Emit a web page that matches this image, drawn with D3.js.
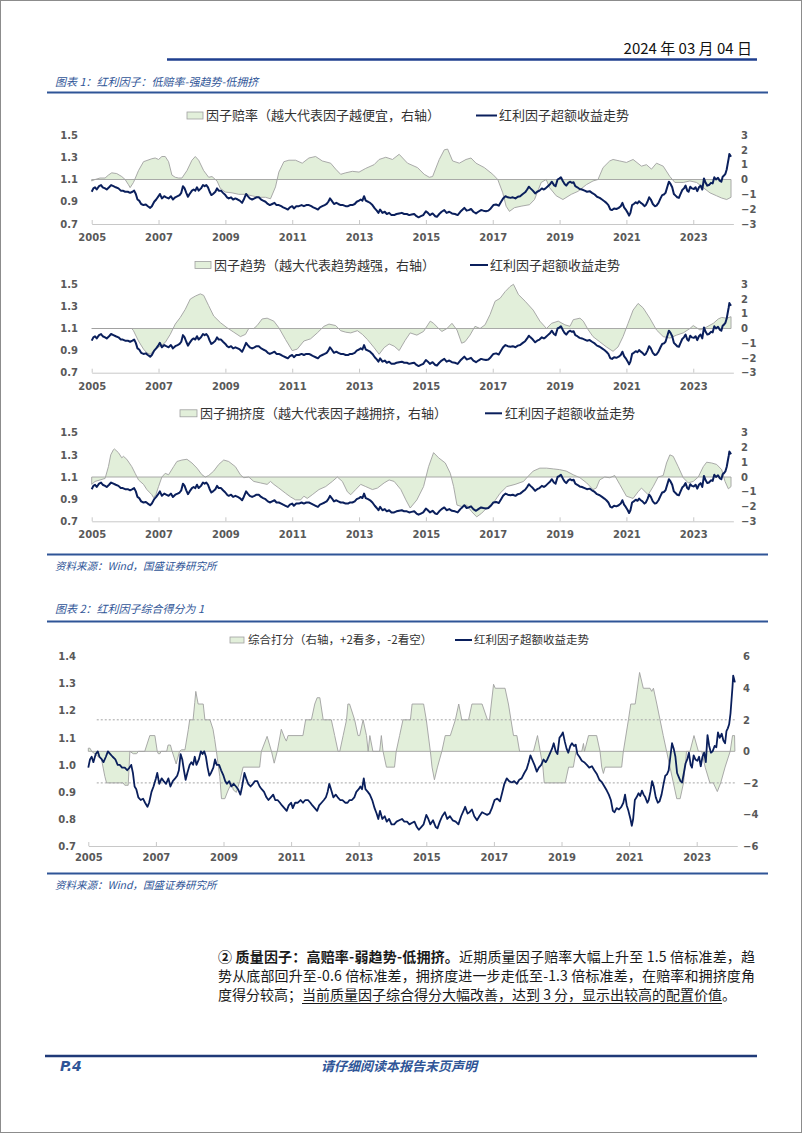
<!DOCTYPE html>
<html><head><meta charset="utf-8">
<script src="https://cdn.jsdelivr.net/npm/d3@7"></script>
<style>body{margin:0;background:#fff}svg{display:block}</style>
</head><body><svg id="c" width="802" height="1133"></svg>
<script>
// ---------------- DATA ----------------
const yearTicks = [2005,2007,2009,2011,2013,2015,2017,2019,2021,2023];
const panelLeftTicks = [0.7,0.9,1.1,1.3,1.5];
const panelRightTicks = [-3,-2,-1,0,1,2,3];
const scoreLeftTicks = [0.7,0.8,0.9,1.0,1.1,1.2,1.3,1.4];
const scoreRightTicks = [-6,-4,-2,0,2,4,6];

// 红利因子超额收益走势 (left axis)
const excessPts = [
[2005.00,0.99],[2005.05,1.02],[2005.10,1.03],[2005.15,1.01],[2005.22,1.04],[2005.28,1.05],[2005.33,1.03],[2005.40,1.02],[2005.45,1.01],[2005.52,1.03],
[2005.58,1.05],[2005.65,1.04],[2005.72,1.03],[2005.80,1.02],[2005.87,1.00],[2005.93,1.00],[2006.00,0.99],[2006.08,0.99],[2006.15,0.98],[2006.22,0.99],
[2006.27,1.00],[2006.32,0.97],[2006.37,0.92],[2006.42,0.91],[2006.48,0.88],[2006.55,0.87],[2006.62,0.875],[2006.68,0.86],[2006.75,0.845],[2006.80,0.86],
[2006.87,0.90],[2006.93,0.92],[2007.00,0.95],[2007.04,0.97],[2007.10,0.93],[2007.17,0.95],[2007.23,0.94],[2007.30,0.93],[2007.37,0.95],[2007.43,0.92],
[2007.50,0.94],[2007.57,0.95],[2007.63,0.96],[2007.68,0.98],[2007.73,1.04],[2007.78,1.02],[2007.83,0.98],[2007.88,0.945],[2007.93,0.97],[2008.00,1.00],
[2008.05,1.01],[2008.10,1.00],[2008.15,1.03],[2008.20,1.00],[2008.27,1.02],[2008.33,1.05],[2008.38,1.04],[2008.43,1.05],[2008.48,1.03],[2008.53,0.99],
[2008.58,0.96],[2008.63,0.97],[2008.70,0.99],[2008.75,1.02],[2008.80,1.00],[2008.87,1.00],[2008.93,0.98],[2009.00,0.96],[2009.05,0.94],[2009.10,0.93],
[2009.17,0.94],[2009.23,0.92],[2009.30,0.93],[2009.37,0.92],[2009.43,0.91],[2009.50,0.89],[2009.55,0.92],[2009.62,0.97],[2009.67,0.95],[2009.73,0.93],
[2009.80,0.92],[2009.87,0.93],[2009.93,0.94],[2010.00,0.94],[2010.07,0.92],[2010.13,0.91],[2010.20,0.90],[2010.27,0.88],[2010.33,0.87],[2010.40,0.88],
[2010.47,0.89],[2010.53,0.87],[2010.60,0.87],[2010.67,0.86],[2010.73,0.85],[2010.80,0.84],[2010.87,0.83],[2010.93,0.85],[2011.00,0.86],[2011.05,0.84],
[2011.12,0.86],[2011.20,0.86],[2011.28,0.87],[2011.35,0.86],[2011.42,0.87],[2011.50,0.87],[2011.57,0.86],[2011.63,0.85],[2011.70,0.84],[2011.77,0.83],
[2011.83,0.85],[2011.90,0.86],[2011.97,0.87],[2012.03,0.88],[2012.08,0.90],[2012.13,0.93],[2012.18,0.91],[2012.25,0.88],[2012.32,0.89],[2012.38,0.88],
[2012.45,0.87],[2012.52,0.87],[2012.60,0.86],[2012.67,0.86],[2012.73,0.87],[2012.80,0.87],[2012.87,0.88],[2012.93,0.90],[2013.00,0.91],[2013.05,0.92],
[2013.10,0.91],[2013.15,0.95],[2013.20,0.91],[2013.27,0.90],[2013.33,0.89],[2013.40,0.87],[2013.47,0.84],[2013.53,0.82],[2013.58,0.80],[2013.63,0.83],
[2013.70,0.80],[2013.77,0.81],[2013.83,0.79],[2013.90,0.80],[2013.97,0.78],[2014.05,0.78],[2014.12,0.79],[2014.20,0.795],[2014.28,0.80],[2014.35,0.79],
[2014.43,0.79],[2014.50,0.78],[2014.57,0.785],[2014.65,0.79],[2014.72,0.77],[2014.78,0.76],[2014.85,0.77],[2014.92,0.78],[2015.00,0.815],[2015.06,0.80],
[2015.12,0.78],[2015.20,0.795],[2015.28,0.77],[2015.33,0.765],[2015.40,0.79],[2015.47,0.81],[2015.55,0.825],[2015.62,0.80],[2015.70,0.81],[2015.78,0.795],
[2015.87,0.79],[2015.95,0.78],[2016.03,0.81],[2016.10,0.83],[2016.15,0.845],[2016.22,0.82],[2016.28,0.825],[2016.35,0.835],[2016.42,0.81],[2016.50,0.795],
[2016.57,0.81],[2016.65,0.825],[2016.72,0.82],[2016.80,0.815],[2016.87,0.82],[2016.94,0.84],[2017.02,0.87],[2017.10,0.875],[2017.18,0.865],[2017.25,0.90],
[2017.31,0.93],[2017.38,0.95],[2017.45,0.94],[2017.53,0.935],[2017.60,0.94],[2017.68,0.93],[2017.75,0.945],[2017.82,0.95],[2017.90,0.97],[2017.97,0.985],
[2018.03,1.01],[2018.08,1.035],[2018.13,1.02],[2018.20,1.00],[2018.27,0.975],[2018.33,0.99],[2018.40,1.00],[2018.47,1.02],[2018.53,1.01],[2018.58,1.02],
[2018.65,1.04],[2018.72,1.06],[2018.77,1.08],[2018.83,1.05],[2018.88,1.04],[2018.94,1.10],[2019.00,1.11],[2019.04,1.12],[2019.10,1.085],[2019.15,1.06],
[2019.20,1.045],[2019.26,1.07],[2019.31,1.08],[2019.37,1.07],[2019.42,1.075],[2019.47,1.04],[2019.53,1.03],[2019.60,1.015],[2019.67,1.01],[2019.75,1.00],
[2019.82,0.99],[2019.90,0.995],[2019.97,0.98],[2020.05,0.965],[2020.12,0.945],[2020.20,0.935],[2020.27,0.92],[2020.34,0.905],[2020.40,0.89],[2020.46,0.87],
[2020.52,0.83],[2020.57,0.825],[2020.63,0.84],[2020.70,0.835],[2020.77,0.845],[2020.83,0.86],[2020.88,0.89],[2020.93,0.85],[2020.98,0.83],[2021.04,0.80],
[2021.08,0.775],[2021.12,0.80],[2021.17,0.87],[2021.22,0.88],[2021.28,0.895],[2021.33,0.885],[2021.38,0.905],[2021.43,0.89],[2021.48,0.88],[2021.54,0.86],
[2021.58,0.87],[2021.63,0.90],[2021.68,0.94],[2021.73,0.92],[2021.79,0.88],[2021.85,0.86],[2021.90,0.865],[2021.96,0.89],[2022.02,0.93],[2022.07,0.96],
[2022.12,0.965],[2022.17,0.98],[2022.22,1.03],[2022.27,1.08],[2022.32,1.06],[2022.37,1.03],[2022.42,0.97],[2022.47,0.955],[2022.52,0.94],[2022.57,0.935],
[2022.62,0.97],[2022.67,1.005],[2022.72,1.02],[2022.77,1.045],[2022.82,1.00],[2022.86,0.99],[2022.91,1.035],[2022.96,1.02],[2023.02,1.015],[2023.07,1.03],
[2023.12,0.995],[2023.17,1.03],[2023.22,1.045],[2023.27,1.01],[2023.32,1.11],[2023.37,1.07],[2023.42,1.045],[2023.47,1.05],[2023.53,1.07],[2023.58,1.065],
[2023.63,1.12],[2023.68,1.10],[2023.74,1.115],[2023.79,1.09],[2023.84,1.08],[2023.88,1.125],[2023.92,1.135],[2023.96,1.15],[2024.00,1.19],[2024.03,1.24],
[2024.06,1.29],[2024.08,1.33],[2024.10,1.32],[2024.13,1.305]
];

// 因子赔率 (right axis)
const valuationPts = [
[2005.00,-0.1],[2005.10,0.0],[2005.25,0.1],[2005.40,0.1],[2005.50,0.3],[2005.60,0.45],[2005.75,0.4],[2005.90,0.2],[2006.00,0.0],[2006.10,-0.35],
[2006.15,-0.55],[2006.25,-0.2],[2006.40,0.6],[2006.55,1.2],[2006.80,1.4],[2006.90,1.45],[2007.00,1.35],[2007.10,1.55],[2007.20,1.55],[2007.30,1.2],
[2007.40,0.3],[2007.50,0.15],[2007.60,0.1],[2007.70,0.1],[2007.85,0.6],[2008.00,1.3],[2008.10,1.55],[2008.20,1.3],[2008.35,0.6],[2008.50,0.15],
[2008.60,0.2],[2008.75,-0.1],[2008.85,-0.6],[2009.00,-0.85],[2009.20,-0.9],[2009.40,-1.0],[2009.60,-1.0],[2009.80,-1.1],[2010.00,-1.2],[2010.20,-1.2],
[2010.35,-1.3],[2010.50,-0.5],[2010.60,0.5],[2010.75,1.2],[2010.90,1.3],[2011.10,1.3],[2011.30,1.1],[2011.50,1.45],[2011.70,1.55],[2011.90,1.25],
[2012.15,1.1],[2012.30,0.7],[2012.45,0.35],[2012.60,0.45],[2012.80,0.55],[2013.00,0.5],[2013.20,0.75],[2013.45,1.0],[2013.60,1.35],[2013.80,1.5],
[2014.00,1.35],[2014.20,1.7],[2014.45,1.1],[2014.75,0.8],[2014.95,0.35],[2015.10,0.15],[2015.20,0.2],[2015.40,1.35],[2015.55,2.0],[2015.65,2.05],
[2015.80,1.25],[2016.00,1.1],[2016.20,1.35],[2016.35,1.45],[2016.50,1.1],[2016.75,0.8],[2017.00,0.35],[2017.15,0.0],[2017.30,-0.9],[2017.40,-1.8],
[2017.50,-2.15],[2017.65,-1.9],[2017.85,-1.8],[2018.10,-1.7],[2018.25,-1.35],[2018.45,-0.2],[2018.60,0.0],[2018.70,-0.55],[2018.90,-1.1],[2019.10,-1.35],
[2019.35,-1.0],[2019.55,-0.8],[2019.80,-0.35],[2020.00,-0.1],[2020.15,0.0],[2020.30,0.8],[2020.50,1.25],[2020.60,1.35],[2020.80,1.25],[2021.00,1.15],
[2021.20,1.35],[2021.45,0.9],[2021.60,1.0],[2021.75,0.7],[2021.90,1.1],[2022.10,0.9],[2022.30,0.2],[2022.45,-0.2],[2022.70,-0.2],[2022.90,-0.1],
[2023.10,-0.2],[2023.30,-0.55],[2023.50,-0.9],[2023.70,-1.1],[2023.85,-1.25],[2024.00,-1.35],[2024.13,-1.2]
];

// 因子趋势 (right axis)
const trendPts = [
[2005.00,0],[2006.20,0],[2006.25,-0.15],[2006.40,-0.85],[2006.55,-1.4],[2006.65,-1.65],[2006.75,-1.75],[2006.90,-1.4],[2007.05,-1.2],[2007.20,-0.95],
[2007.35,-0.4],[2007.50,0.3],[2007.65,0.75],[2007.80,1.3],[2007.95,2.0],[2008.10,2.2],[2008.25,2.35],[2008.35,2.25],[2008.50,1.55],[2008.65,0.85],
[2008.85,0.4],[2009.05,0.05],[2009.25,-0.25],[2009.45,-0.55],[2009.60,-0.4],[2009.70,0.0],[2009.85,0.0],[2009.95,0.2],[2010.10,0.65],[2010.25,0.7],
[2010.45,0.5],[2010.60,0.05],[2010.80,-0.75],[2011.00,-1.5],[2011.15,-1.4],[2011.35,-0.85],[2011.55,-0.7],[2011.75,-0.3],[2011.95,0.15],[2012.10,0.3],
[2012.30,0.2],[2012.45,-0.15],[2012.60,-0.25],[2012.75,-0.3],[2012.95,-0.15],[2013.10,-0.4],[2013.25,-0.75],[2013.45,-1.3],[2013.60,-1.75],[2013.75,-1.3],
[2013.90,-1.05],[2014.05,-1.2],[2014.20,-1.5],[2014.38,-0.8],[2014.53,-0.3],[2014.73,-0.45],[2014.93,-0.2],[2015.13,0.5],[2015.23,0.35],[2015.38,0.0],
[2015.48,-0.2],[2015.63,0.0],[2015.78,0.35],[2015.93,-0.1],[2016.07,-1.0],[2016.17,-0.9],[2016.32,-0.45],[2016.47,0.15],[2016.62,0.0],[2016.77,0.25],
[2016.92,0.95],[2017.07,1.85],[2017.22,2.05],[2017.37,2.5],[2017.52,2.85],[2017.62,3.0],[2017.77,2.3],[2017.97,1.85],[2018.21,1.25],[2018.41,0.5],
[2018.61,0.0],[2018.76,0.35],[2018.96,0.5],[2019.16,0.25],[2019.31,0.15],[2019.41,0.6],[2019.61,0.7],[2019.71,0.5],[2019.86,-0.1],[2020.00,-0.55],
[2020.20,-0.9],[2020.40,-1.25],[2020.60,-1.55],[2020.75,-1.25],[2020.90,-0.55],[2021.05,0.35],[2021.20,1.25],[2021.35,1.7],[2021.50,1.4],[2021.70,0.7],
[2021.90,-0.1],[2022.10,-0.55],[2022.30,-0.65],[2022.50,-0.45],[2022.70,-0.3],[2022.90,0.0],[2023.00,0.2],[2023.20,-0.1],[2023.40,0.1],[2023.60,0.35],
[2023.75,0.65],[2023.85,0.75],[2024.00,0.7],[2024.13,0.8]
];

// 因子拥挤度 (right axis)
const crowdingPts = [
[2005.00,-0.5],[2005.10,-0.3],[2005.25,-0.2],[2005.40,-0.1],[2005.50,0.7],[2005.57,1.5],[2005.65,1.85],[2005.68,1.9],[2005.80,1.65],[2005.90,1.3],
[2005.95,1.4],[2006.05,1.2],[2006.20,0.7],[2006.30,0.25],[2006.40,-0.2],[2006.55,-0.5],[2006.65,-0.85],[2006.80,-1.2],[2006.85,-1.4],[2006.92,-1.2],
[2007.00,-0.65],[2007.10,0.0],[2007.20,0.25],[2007.30,0.15],[2007.45,0.7],[2007.55,1.05],[2007.70,1.15],[2007.85,1.2],[2008.00,0.95],[2008.15,0.6],
[2008.30,0.15],[2008.40,0.0],[2008.50,0.1],[2008.65,0.4],[2008.80,0.85],[2008.95,1.15],[2009.10,1.05],[2009.30,0.7],[2009.45,0.15],[2009.55,-0.05],
[2009.70,0.0],[2009.85,-0.3],[2010.05,-0.4],[2010.25,-0.5],[2010.35,-0.3],[2010.45,-0.5],[2010.60,-0.75],[2010.80,-1.1],[2010.95,-1.35],[2011.10,-1.55],
[2011.25,-1.55],[2011.35,-1.3],[2011.45,-1.45],[2011.60,-1.2],[2011.80,-0.85],[2012.00,-0.65],[2012.20,-0.3],[2012.35,0.0],[2012.50,-0.3],[2012.65,-1.0],
[2012.75,-1.2],[2012.90,-0.85],[2013.05,-0.5],[2013.20,-0.65],[2013.40,-0.85],[2013.55,-0.75],[2013.75,-0.4],[2013.90,-0.2],[2014.05,-0.3],[2014.25,-0.85],
[2014.40,-1.55],[2014.53,-2.1],[2014.73,-1.55],[2014.93,-0.65],[2015.08,0.7],[2015.23,1.65],[2015.38,1.3],[2015.58,0.95],[2015.73,0.25],[2015.83,-0.65],
[2015.93,-1.9],[2016.07,-2.0],[2016.22,-1.9],[2016.37,-2.35],[2016.52,-2.7],[2016.67,-2.45],[2016.82,-2.1],[2017.02,-1.75],[2017.22,-1.1],[2017.42,-0.65],
[2017.67,-0.5],[2017.92,-0.3],[2018.06,0.05],[2018.21,0.4],[2018.41,0.6],[2018.61,0.6],[2018.81,0.55],[2019.00,0.5],[2019.20,0.4],[2019.41,0.15],
[2019.61,-0.05],[2019.81,-0.4],[2020.00,-0.85],[2020.10,-0.75],[2020.20,-0.2],[2020.35,0.0],[2020.50,-0.05],[2020.65,0.1],[2020.80,-0.5],[2021.00,-1.3],
[2021.20,-1.45],[2021.35,-1.0],[2021.45,-0.75],[2021.65,-1.2],[2021.80,-0.65],[2021.95,0.0],[2022.10,0.1],[2022.20,0.95],[2022.30,1.5],[2022.40,1.4],
[2022.55,0.7],[2022.70,-0.05],[2022.85,-0.4],[2023.00,-0.3],[2023.15,0.0],[2023.30,0.7],[2023.40,1.0],[2023.55,0.95],[2023.70,0.85],[2023.85,0.5],
[2023.95,-0.3],[2024.05,-0.8],[2024.13,-0.65]
];

// 综合打分 (right axis, chart 2)
const scorePts = [
[2005.00,0.2],[2005.05,0.2],[2005.10,0],[2005.39,-0.5],[2005.49,-1.6],[2005.54,-2.0],[2006.03,-2.0],[2006.08,-2.15],[2006.18,-2.15],[2006.23,0],
[2006.33,-0.15],[2006.43,-0.15],[2006.48,0],[2006.67,0],[2006.82,1.0],[2006.97,1.0],[2007.04,0],[2007.07,-0.15],[2007.12,-0.15],[2007.15,0],
[2007.32,0],[2007.36,0.4],[2007.43,0.4],[2007.48,0],[2007.60,-0.8],[2007.70,0],[2007.76,0.1],[2007.86,0.1],[2007.96,1.4],[2008.00,2.0],
[2008.10,2.0],[2008.15,3.1],[2008.18,3.8],[2008.25,3.0],[2008.40,3.0],[2008.45,2.0],[2008.60,2.0],[2008.69,1.4],[2008.74,0.75],[2008.79,0],
[2008.89,-1.6],[2008.94,-3.0],[2009.04,-3.0],[2009.14,-2.45],[2009.24,-2.0],[2009.29,-2.45],[2009.38,-2.6],[2009.48,-1.9],[2009.58,-1.0],[2010.07,-1.0],
[2010.12,0],[2010.29,0.95],[2010.42,0],[2010.50,-0.75],[2010.59,0],[2010.71,1.4],[2010.81,0.85],[2010.86,0.65],[2010.91,1.0],[2011.35,1.0],
[2011.43,2.0],[2011.60,2.0],[2011.70,3.0],[2011.77,3.4],[2011.85,3.4],[2011.95,2.0],[2012.19,2.0],[2012.29,1.0],[2012.39,0],[2012.44,0],
[2012.54,1.0],[2012.64,2.0],[2012.68,3.0],[2012.73,3.0],[2012.88,2.0],[2012.98,1.0],[2013.03,1.0],[2013.13,2.0],[2013.23,1.0],[2013.28,0],
[2013.33,1.0],[2013.42,0],[2013.62,0],[2013.67,1.0],[2013.72,0],[2013.82,-1.0],[2014.06,-1.0],[2014.11,0],[2014.21,1.0],[2014.31,2.0],
[2014.53,2.0],[2014.58,3.0],[2014.92,3.0],[2015.00,2.0],[2015.12,0],[2015.17,-1.0],[2015.24,-1.8],[2015.33,-1.0],[2015.46,0],[2015.56,1.0],
[2015.71,1.0],[2015.86,2.0],[2015.96,3.0],[2016.05,2.0],[2016.25,2.0],[2016.35,3.0],[2016.65,3.0],[2016.81,2.0],[2016.87,2.0],[2016.99,4.25],
[2017.04,4.0],[2017.33,4.0],[2017.43,3.0],[2017.58,1.0],[2017.68,1.0],[2017.76,0],[2018.17,0],[2018.29,1.0],[2018.37,0],[2018.45,-1.0],
[2018.49,-2.0],[2019.11,-2.0],[2019.21,-1.0],[2019.35,-1.0],[2019.43,0],[2019.60,0],[2019.65,0.5],[2019.68,0],[2019.80,1.0],[2020.04,1.0],
[2020.14,0],[2020.19,-1.0],[2020.24,-1.4],[2020.29,-1.0],[2020.78,-1.0],[2020.83,0],[2020.98,2.0],[2021.05,3.0],[2021.18,3.0],[2021.31,5.0],
[2021.42,4.0],[2021.62,4.0],[2021.67,3.8],[2021.72,4.0],[2021.82,3.0],[2022.01,1.0],[2022.11,0],[2022.21,-1.0],[2022.31,-2.0],[2022.41,-3.0],
[2022.51,-3.0],[2022.61,-2.0],[2022.70,0],[2022.80,0],[2022.92,1.0],[2023.05,0],[2023.15,0],[2023.25,-1.0],[2023.39,-2.0],[2023.49,-2.0],
[2023.61,-2.55],[2023.71,-2.0],[2023.84,-1.0],[2023.99,0],[2024.06,1.0],[2024.12,1.0],[2024.13,0]
];
const scoreGuides = [2,-2];

// ---------------- DRAW ----------------
const svg = d3.select("#c");
const CJK = "'Noto Sans CJK SC','Noto Sans',sans-serif";
const BLUE = "#2f5597";
const NAVY = "#0a1f5c";
const FILL = "#e2efda";
const EDGE = "#a0a0a0";
const AX = "#595959";

svg.append("rect").attr("x",0.5).attr("y",0.5).attr("width",801).attr("height",1132)
  .attr("fill","#fff").attr("stroke","#8c8c8c").attr("stroke-width",1);

// header
svg.append("text").attr("x",752).attr("y",54).attr("text-anchor","end")
  .attr("font-family",CJK).attr("font-size",15).attr("fill","#111").text("2024 年 03 月 04 日");
svg.append("line").attr("x1",167).attr("x2",757).attr("y1",59.5).attr("y2",59.5)
  .attr("stroke","#1f3f8f").attr("stroke-width",2.5);

function title(y, txt, ruleY){
  svg.append("text").attr("x",55).attr("y",y).attr("font-family",CJK).attr("font-size",11)
    .attr("font-style","italic").attr("fill",BLUE).text(txt);
  svg.append("line").attr("x1",47).attr("x2",768).attr("y1",ruleY).attr("y2",ruleY)
    .attr("stroke",BLUE).attr("stroke-width",2);
}
function source(ruleY, y){
  svg.append("line").attr("x1",47).attr("x2",768).attr("y1",ruleY).attr("y2",ruleY)
    .attr("stroke",BLUE).attr("stroke-width",2);
  svg.append("text").attr("x",55).attr("y",y).attr("font-family",CJK).attr("font-size",10.5)
    .attr("font-style","italic").attr("fill",BLUE).text("资料来源：Wind，国盛证券研究所");
}

title(86, "图表 1：红利因子：低赔率-强趋势-低拥挤", 92.5);

function drawChart(c){
  const g = svg.append("g");
  const x = d3.scaleLinear().domain([2005, 2024.2]).range([c.x0, c.x0 + 19.2*c.pxYear]);
  const yL = d3.scaleLinear().domain(c.leftDomain).range([c.bottom, c.top]);
  const yR = d3.scaleLinear().domain(c.rightDomain).range([c.bottom, c.top]);

  // area
  const area = d3.area().x(d=>x(d[0])).y0(yR(0)).y1(d=>yR(d[1]));
  const pts = c.area;
  const closed = [[pts[0][0],0], ...pts, [pts[pts.length-1][0],0]];
  g.append("path").attr("d", area(pts)).attr("fill",FILL).attr("stroke","none");
  g.append("path").attr("d", d3.line().x(d=>x(d[0])).y(d=>yR(d[1]))(closed) + "Z")
    .attr("fill","none").attr("stroke",EDGE).attr("stroke-width",0.9);

  if (c.guides){
    g.selectAll(".guide").data(c.guides).join("line")
      .attr("x1",x(2005.25)).attr("x2",x(2024.15))
      .attr("y1",d=>yR(d)).attr("y2",d=>yR(d))
      .attr("stroke","#a6a6a6").attr("stroke-width",1).attr("stroke-dasharray","2,2");
  }

  // bottom axis
  const xa = g.append("g").attr("transform",`translate(0,${c.bottom})`)
    .call(d3.axisBottom(x).tickValues(yearTicks).tickFormat(d3.format("d")).tickSize(-4).tickSizeOuter(0).tickPadding(c.xPad));
  xa.select(".domain").attr("stroke","#c8c8c8");
  xa.selectAll(".tick line").attr("stroke","#c8c8c8");
  xa.selectAll("text").attr("font-family","'DejaVu Sans',Verdana,sans-serif").attr("font-weight","bold")
    .attr("font-size",10).attr("fill",AX);

  // line
  g.append("path").attr("d", d3.line().x(d=>x(d[0])).y(d=>yL(d[1]))(excessPts))
    .attr("fill","none").attr("stroke",NAVY).attr("stroke-width",c.lw).attr("stroke-linejoin","round");

  // left axis
  const la = g.append("g").attr("transform",`translate(${c.leftX},0)`)
    .call(d3.axisLeft(yL).tickValues(c.leftTicks).tickFormat(d3.format(".1f")).tickSize(0).tickPadding(0));
  la.select(".domain").remove();
  la.selectAll("text").attr("font-family","'DejaVu Sans',Verdana,sans-serif").attr("font-weight","bold")
    .attr("font-size",10).attr("fill",AX);
  // right axis
  const ra = g.append("g").attr("transform",`translate(${c.rightX},0)`)
    .call(d3.axisRight(yR).tickValues(c.rightTicks).tickFormat(d3.format("d")).tickSize(0).tickPadding(0));
  ra.select(".domain").remove();
  ra.selectAll("text").attr("font-family","'DejaVu Sans',Verdana,sans-serif").attr("font-weight","bold")
    .attr("font-size",10).attr("fill",AX);

  // legend
  const L = c.legend;
  g.append("rect").attr("x",L.sw[0]).attr("y",L.y-L.sh/2).attr("width",L.sw[1]-L.sw[0]).attr("height",L.sh)
    .attr("fill",FILL).attr("stroke",EDGE).attr("stroke-width",0.8);
  g.append("text").attr("x",L.t1).attr("y",L.y).attr("dy","0.36em").attr("font-family",CJK)
    .attr("font-size",L.fs).attr("fill","#333").text(L.label);
  g.append("line").attr("x1",L.ln[0]).attr("x2",L.ln[1]).attr("y1",L.y).attr("y2",L.y)
    .attr("stroke",NAVY).attr("stroke-width",2);
  g.append("text").attr("x",L.t2).attr("y",L.y).attr("dy","0.36em").attr("font-family",CJK)
    .attr("font-size",L.fs).attr("fill","#333").text("红利因子超额收益走势");
}

const panelBase = {x0:91.7, pxYear:33.42, leftDomain:[0.7,1.5], rightDomain:[-3,3],
  leftTicks:panelLeftTicks, rightTicks:panelRightTicks, leftX:78, rightX:741, xPad:10, lw:2};

drawChart(Object.assign({}, panelBase, {top:135, bottom:224, area:valuationPts,
  legend:{y:115.5, sw:[187,203], sh:7, t1:206, ln:[476,497], t2:499, fs:13, label:"因子赔率（越大代表因子越便宜，右轴）"}}));
drawChart(Object.assign({}, panelBase, {top:284.3, bottom:372.7, area:trendPts,
  legend:{y:265, sw:[195,211], sh:7, t1:214, ln:[470,488], t2:490, fs:13, label:"因子趋势（越大代表趋势越强，右轴）"}}));
drawChart(Object.assign({}, panelBase, {top:432.7, bottom:521.3, area:crowdingPts,
  legend:{y:413.3, sw:[180,197], sh:7, t1:200, ln:[485,502], t2:505, fs:13, label:"因子拥挤度（越大代表因子越拥挤，右轴）"}}));

source(554.5, 570);

title(613, "图表 2：红利因子综合得分为 1", 621.5);
drawChart({x0:88.3, pxYear:33.8, top:656.7, bottom:846, leftDomain:[0.7,1.4], rightDomain:[-6,6],
  leftTicks:scoreLeftTicks, rightTicks:scoreRightTicks, leftX:76, rightX:743, xPad:8, lw:1.8,
  area:scorePts, guides:scoreGuides,
  legend:{y:640, sw:[230,244], sh:6, t1:248, ln:[455,472], t2:474, fs:11.5, label:"综合打分（右轴，+2看多，-2看空）"}});

source(873.5, 889);

// paragraph
const para = svg.append("g").attr("font-family",CJK).attr("font-size",14).attr("fill","#1a1a1a");
const l1 = para.append("text").attr("x",218).attr("y",962).attr("textLength",537).attr("lengthAdjust","spacing");
l1.append("tspan").attr("font-weight","bold").text("② 质量因子：高赔率-弱趋势-低拥挤。");
l1.append("tspan").text("近期质量因子赔率大幅上升至 1.5 倍标准差，趋");
para.append("text").attr("x",218).attr("y",981).attr("textLength",537).attr("lengthAdjust","spacing")
  .text("势从底部回升至-0.6 倍标准差，拥挤度进一步走低至-1.3 倍标准差，在赔率和拥挤度角");
const l3 = para.append("text").attr("x",218).attr("y",1000)
  .text("度得分较高；当前质量因子综合得分大幅改善，达到 3 分，显示出较高的配置价值。");
const n3 = l3.node();
const s0 = n3.getSubStringLength(0,6);
const s1 = n3.getSubStringLength(0,n3.getNumberOfChars()-1);
para.append("line").attr("x1",218+s0).attr("x2",218+s1).attr("y1",1003.5).attr("y2",1003.5)
  .attr("stroke","#1a1a1a").attr("stroke-width",1);

// footer
svg.append("line").attr("x1",45).attr("x2",757).attr("y1",1056).attr("y2",1056)
  .attr("stroke","#1f3a78").attr("stroke-width",2.5);
svg.append("text").attr("x",60).attr("y",1071).attr("font-family","'DejaVu Sans',sans-serif")
  .attr("font-size",14).attr("font-weight","bold").attr("font-style","italic").attr("fill",BLUE).text("P.4");
svg.append("text").attr("x",399).attr("y",1071).attr("text-anchor","middle").attr("font-family",CJK)
  .attr("font-size",13).attr("font-weight","bold").attr("font-style","italic").attr("fill",BLUE)
  .text("请仔细阅读本报告末页声明");
</script></body></html>
